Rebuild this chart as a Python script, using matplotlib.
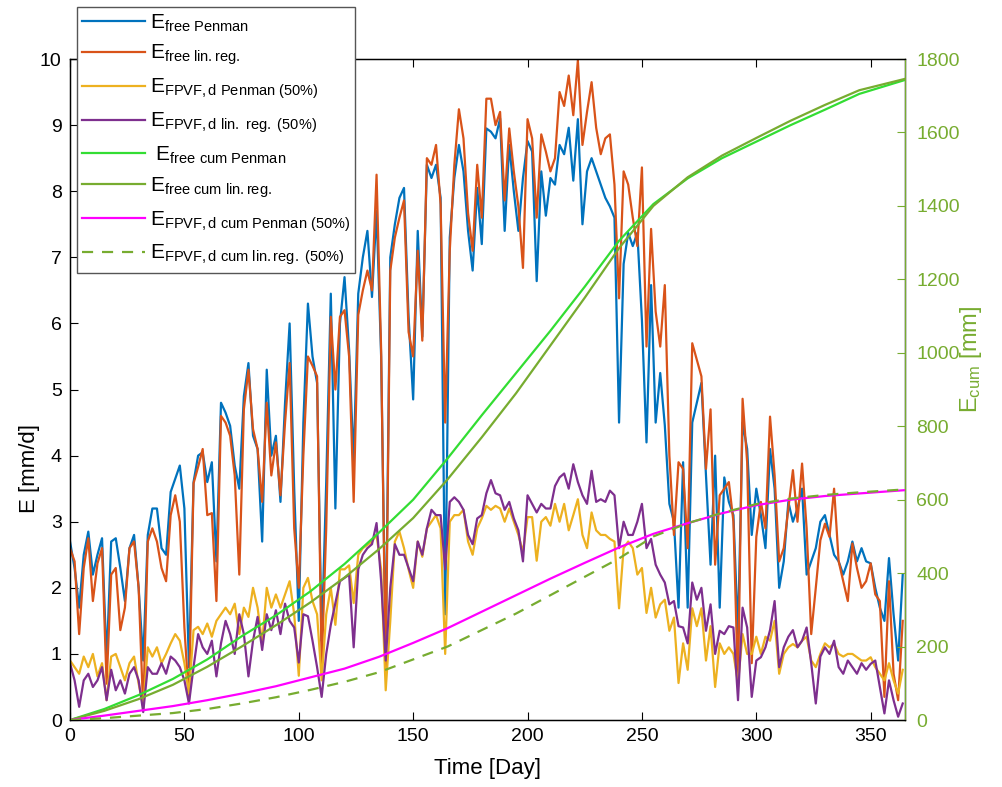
import numpy as np
import matplotlib.pyplot as plt

plt.rcParams['font.family'] = ['Liberation Sans', 'DejaVu Sans']
plt.rcParams['mathtext.fontset'] = 'custom'
plt.rcParams['mathtext.rm'] = 'Liberation Sans'
plt.rcParams['mathtext.it'] = 'Liberation Sans:italic'

# daily values, every second day of the year
day = np.arange(0, 365, 2)

e_free_penman = [
    2.7, 2.3, 1.7, 2.5, 2.85, 2.2, 2.5, 2.75, 0.9, 2.7,
    2.75, 2.3, 1.8, 2.6, 2.8, 2.0, 0.9, 2.8, 3.2, 3.2,
    2.6, 2.5, 3.45, 3.65, 3.85, 3.2, 0.8, 3.6, 4.0, 4.05,
    3.6, 3.9, 2.4, 4.8, 4.65, 4.45, 3.85, 3.5, 4.9, 5.4,
    4.3, 4.1, 2.7, 5.3, 4.0, 4.3, 3.3, 4.8, 6.0, 3.5,
    1.5, 4.5, 6.3, 5.5, 5.1, 1.2, 3.6, 6.45, 3.2, 6.0,
    6.7, 5.6, 3.9, 6.45, 7.0, 7.4, 6.4, 7.7, 5.5, 1.0,
    7.0, 7.5, 7.9, 8.05, 6.1, 4.85, 7.4, 5.8, 8.4, 8.2,
    8.4, 7.9, 1.6, 7.3, 8.2, 8.7, 8.3, 7.4, 6.8, 8.05,
    7.2, 8.95, 8.9, 8.8, 9.1, 7.4, 8.7, 8.0, 7.4, 8.2,
    8.76, 8.6, 6.64, 8.3, 7.63, 8.2, 8.1, 8.7, 8.56, 8.96,
    8.16, 9.09, 7.5, 8.3, 8.5, 8.3, 8.1, 7.9, 7.77, 7.6,
    4.5, 6.9, 7.37, 7.17, 7.37, 6.05, 4.2, 6.58, 4.5, 5.25,
    4.46, 3.27, 3.0, 1.7, 3.9, 1.7, 4.5, 4.8, 5.1, 3.7,
    2.35, 4.0, 1.7, 3.67, 3.3, 3.1, 1.3, 4.5, 4.1, 2.8,
    3.5, 3.1, 2.6, 4.1, 3.5, 2.0, 2.4, 3.3, 3.0, 3.2,
    3.5, 2.2, 2.4, 2.6, 3.0, 3.1, 2.8, 2.5, 2.4, 2.2,
    2.4, 2.7, 2.4, 2.6, 2.4, 2.37, 2.0, 1.7, 1.5, 2.45,
    1.6, 0.9, 2.2,
]

e_free_linreg = [
    2.6, 2.4, 1.3, 2.3, 2.75, 1.8, 2.37, 2.6, 0.55, 2.2,
    2.3, 1.36, 1.7, 2.6, 2.7, 2.0, 0.15, 2.7, 2.9, 2.7,
    2.3, 2.1, 3.1, 3.4, 3.0, 1.4, 0.3, 3.58, 3.83, 4.1,
    3.1, 3.13, 1.8, 4.6, 4.5, 4.3, 3.7, 2.2, 4.7, 5.3,
    4.4, 4.1, 3.3, 4.8, 3.7, 4.2, 3.4, 4.5, 5.4, 2.9,
    2.0, 4.0, 5.5, 5.36, 5.2, 0.8, 2.9, 6.1, 5.0, 6.1,
    6.2, 5.5, 3.3, 6.13, 6.5, 6.8, 6.5, 8.25, 5.6, 0.7,
    6.8, 7.3, 7.6, 7.86, 5.87, 5.5, 7.1, 5.74, 8.5, 8.4,
    8.7, 7.8, 4.5, 7.1, 8.4, 9.24, 8.8, 7.67, 7.1, 8.4,
    7.6, 9.4, 9.4, 9.0, 9.2, 7.86, 8.95, 8.3, 7.77, 6.84,
    9.09, 8.8, 7.6, 8.86, 8.6, 8.3, 8.5, 9.5, 9.29, 9.75,
    9.15, 9.98, 8.7, 9.2, 9.65, 8.96, 8.56, 8.8, 8.86, 8.1,
    6.38, 8.3, 8.1, 7.6, 7.17, 8.36, 5.65, 7.43, 6.18, 5.65,
    6.58, 4.0, 2.8, 3.9, 3.8, 2.6, 5.7, 5.45, 5.2, 3.8,
    4.7, 2.35, 3.4, 3.5, 3.6, 3.0, 0.5, 4.86, 3.9, 0.86,
    2.77, 3.3, 2.9, 4.59, 3.7, 2.4, 2.6, 3.2, 3.78, 3.0,
    3.88, 2.9, 1.3, 2.0, 2.72, 2.97, 2.77, 3.5, 2.4, 2.1,
    1.8, 2.67, 2.3, 2.0, 2.1, 2.37, 1.9, 1.8, 0.35, 2.1,
    0.7, 0.3, 1.5,
]

e_fpvf_penman = [
    0.9, 0.8, 0.7, 0.96, 0.8, 1.0, 0.66, 0.86, 0.3, 0.96,
    1.0, 0.8, 0.6, 0.86, 0.96, 0.55, 0.2, 1.1, 0.96, 1.1,
    0.86, 1.0, 1.16, 1.3, 1.2, 0.86, 0.4, 1.36, 1.41, 1.3,
    1.46, 1.26, 1.5, 1.6, 1.7, 1.6, 1.76, 1.3, 1.7, 1.56,
    2.0, 1.7, 1.16, 2.0, 1.7, 1.9, 1.7, 1.9, 2.1, 1.6,
    0.67, 2.0, 2.15, 1.8, 1.6, 0.6, 1.6, 2.0, 1.44, 2.28,
    2.28, 2.34, 1.77, 2.5, 2.6, 2.65, 2.7, 2.8, 2.28, 0.45,
    1.5, 2.7, 2.85, 2.6, 2.28, 2.0, 2.7, 2.47, 2.9, 3.0,
    3.1, 2.9, 1.0, 3.0, 3.1, 3.1, 3.18, 2.7, 2.5, 2.9,
    3.05, 3.24, 3.18, 3.24, 3.2, 3.0, 3.2, 3.0, 2.8, 2.54,
    3.07, 3.07, 2.41, 3.0, 3.07, 2.94, 3.27, 3.0, 3.27, 2.87,
    3.1, 3.34, 2.8, 2.6, 3.14, 2.87, 2.8, 2.8, 2.74, 2.7,
    1.69, 2.6, 2.7, 2.6, 2.2, 2.3, 1.62, 2.0, 1.55, 1.75,
    1.82, 1.35, 1.55, 0.56, 1.16, 0.76, 1.69, 1.42, 1.69, 0.9,
    1.42, 0.5, 1.16, 1.0, 1.1, 1.0, 0.56, 1.3, 1.0, 1.0,
    1.26, 1.0, 1.26, 1.2, 1.5, 0.7, 1.0, 1.1, 1.15, 1.1,
    1.2, 1.26, 0.9, 0.8, 1.0, 1.16, 1.1, 1.15, 1.0, 0.96,
    1.0, 1.0, 0.95, 0.9, 0.9, 0.95, 0.8, 0.7, 0.6, 0.86,
    0.6, 0.4, 0.76,
]

e_fpvf_linreg = [
    0.86, 0.6, 0.2, 0.6, 0.7, 0.5, 0.6, 0.8, 0.3, 0.76,
    0.45, 0.6, 0.4, 0.7, 0.8, 0.6, 0.12, 0.8, 0.7, 0.7,
    0.86, 0.7, 0.96, 0.9, 0.8, 0.6, 0.25, 0.8, 1.3, 1.1,
    1.0, 1.2, 0.66, 1.16, 1.5, 1.3, 1.0, 1.6, 1.3, 0.66,
    1.2, 1.56, 1.06, 1.6, 1.36, 1.66, 1.3, 1.76, 1.5, 1.4,
    0.87, 1.6, 1.57, 1.2, 0.8, 0.35, 1.0, 1.44, 1.77, 2.1,
    2.15, 2.2, 1.1, 2.28, 2.5, 2.6, 2.66, 2.98, 2.1, 0.9,
    2.0, 2.66, 2.5, 2.5, 2.3, 2.1, 2.7, 2.5, 2.9, 3.18,
    3.1, 3.1, 2.28, 3.3, 3.37, 3.3, 3.18, 2.8, 2.66, 3.05,
    3.1, 3.43, 3.63, 3.43, 3.4, 3.18, 3.3, 3.05, 2.87, 2.4,
    3.4, 3.27, 3.14, 3.27, 3.2, 3.2, 3.54, 3.67, 3.73, 3.5,
    3.87, 3.6, 3.4, 3.27, 3.77, 3.3, 3.34, 3.3, 3.47, 3.4,
    2.6, 3.0, 2.8, 2.8, 3.0, 3.27, 2.6, 2.74, 2.35, 2.2,
    2.08, 1.75, 1.8, 1.42, 1.4, 1.16, 2.08, 1.82, 2.0, 1.35,
    1.75, 1.0, 1.35, 1.3, 1.42, 1.4, 0.3, 1.7, 1.4, 0.35,
    0.9, 0.95, 1.1, 1.36, 1.8, 0.8, 1.1, 1.26, 1.36, 1.1,
    1.2, 1.4, 0.86, 0.25, 0.96, 1.1, 1.0, 1.2, 0.8, 0.7,
    0.9, 0.8, 0.7, 0.86, 0.76, 0.85, 0.9, 0.5, 0.1, 0.6,
    0.3, 0.05, 0.25,
]

# cumulative totals [mm]
cum_day = [0, 15, 30, 45, 60, 75, 90, 105, 120, 135, 150, 165, 180,
           195, 210, 225, 240, 255, 270, 285, 300, 315, 330, 345, 365]
cum_free_penman = [0, 30, 68, 112, 165, 228, 285, 350, 425, 510, 600, 712,
                   830, 945, 1060, 1180, 1305, 1405, 1475, 1530, 1575,
                   1620, 1662, 1705, 1743]
cum_free_linreg = [0, 25, 57, 96, 145, 200, 258, 320, 388, 465, 550, 655,
                   770, 890, 1020, 1150, 1285, 1400, 1478, 1537, 1585,
                   1632, 1675, 1715, 1746]
cum_fpvf_penman = [0, 12, 25, 38, 54, 72, 92, 116, 140, 172, 210, 250,
                   295, 340, 385, 428, 470, 507, 536, 563, 585, 600, 610,
                   617, 626]
cum_fpvf_linreg = [0, 5, 12, 19, 30, 45, 62, 82, 104, 130, 165, 200,
                   245, 290, 340, 390, 440, 500, 536, 564, 588, 603, 613,
                   620, 628]

olive = '#77AC30'

fig = plt.figure(figsize=(10.03, 7.87), dpi=100)
ax = fig.add_axes([0.0698, 0.0851, 0.8325, 0.8399])
ax2 = ax.twinx()

lw = 1.6
ax.plot(day, e_free_penman, color='#0072BD', lw=lw,
        label=r'E$_{\mathrm{free\ Penman}}$')
ax.plot(day, e_free_linreg, color='#D95319', lw=lw,
        label=r'E$_{\mathrm{free\ lin.reg.}}$')
ax.plot(day, e_fpvf_penman, color='#EDB120', lw=lw,
        label=r'E$_{\mathrm{FPVF,d\ Penman\ (50\%)}}$')
ax.plot(day, e_fpvf_linreg, color='#7E2F8E', lw=lw,
        label=r'E$_{\mathrm{FPVF,d\ lin.\ reg.\ (50\%)}}$')

ax2.plot(cum_day, cum_free_penman, color='#33DD33', lw=lw,
         label=r' E$_{\mathrm{free\ cum\ Penman}}$')
ax2.plot(cum_day, cum_free_linreg, color=olive, lw=lw,
         label=r'E$_{\mathrm{free\ cum\ lin.reg.}}$')
ax2.plot(cum_day, cum_fpvf_penman, color='#FF00FF', lw=lw,
         label=r'E$_{\mathrm{FPVF,d\ cum\ Penman\ (50\%)}}$')
ax2.plot(cum_day, cum_fpvf_linreg, color=olive, lw=lw, ls=(0, (5, 4)),
         label=r'E$_{\mathrm{FPVF,d\ cum\ lin.reg.\ (50\%)}}$')

ax.set_xlim(0, 365)
ax.set_ylim(0, 10)
ax2.set_ylim(0, 1800)
ax.set_xticks(range(0, 351, 50))
ax.set_yticks(range(0, 11))
ax2.set_yticks(range(0, 1801, 200))

ax.tick_params(direction='in', length=6, labelsize=14, top=True, pad=6)
ax2.tick_params(direction='in', length=6, labelsize=14, colors=olive, pad=8)
ax2.spines['right'].set_color(olive)
for sp in ax.spines.values():
    sp.set_linewidth(1.0)

ax.set_xlabel('Time [Day]', fontsize=16)
ax.xaxis.set_label_coords(0.5, -0.058)
ax.set_ylabel('E [mm/d]', fontsize=16)
ax.yaxis.set_label_coords(-0.036, 0.381)
ax2.set_ylabel(r'E$_{\mathrm{cum}}$ [mm]', fontsize=17, color=olive)
ax2.yaxis.set_label_coords(1.064, 0.545)

handles = ax.get_lines() + ax2.get_lines()
leg = ax2.legend(handles=handles, loc='upper left',
                 bbox_to_anchor=(77 / 1003, 1 - 7 / 787),
                 bbox_transform=fig.transFigure, fontsize=15,
                 frameon=True, fancybox=False, framealpha=1,
                 edgecolor='#555555', handlelength=3.0, labelspacing=0.45,
                 borderaxespad=0, borderpad=0.25, handletextpad=0.25)
leg.get_frame().set_linewidth(1.0)

fig.savefig('out.png', dpi=100)
